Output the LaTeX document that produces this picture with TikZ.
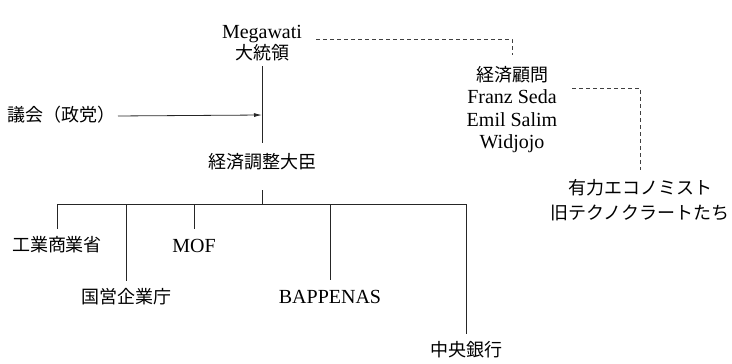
\documentclass[tikz,border=0pt]{standalone}
\usepackage{fontspec}
\setmainfont{Liberation Serif}
\newfontfamily\cjk{Noto Sans CJK JP}[Scale=0.9]
\usetikzlibrary{arrows.meta}
\tikzset{
  lab/.style={inner sep=0pt, outer sep=0pt, font=\fontsize{20}{21.5}\selectfont, align=center},
  one/.style={lab, text height=14pt, text depth=4pt},
  cjkone/.style={one, font=\fontsize{20}{21.5}\selectfont\cjk},
  conn/.style={line width=0.8pt, draw=black!85},
  dashline/.style={line width=0.8pt, draw=black!75, dash pattern=on 4pt off 3pt},
}
\begin{document}
\begin{tikzpicture}[x=1pt,y=-1pt]
\useasboundingbox (0,0) rectangle (732,364);
\node[lab, anchor=north] (pres) at (262,25) {Megawati\\{\cjk 大統領}};
\node[cjkone, anchor=west] (gikai) at (8,116) {議会（政党）};
\node[cjkone] (keizai) at (262,163) {経済調整大臣};
\node[lab, anchor=north, font=\fontsize{20}{22.5}\selectfont] (adv) at (512,66) {{\cjk 経済顧問}\\Franz Seda\\Emil Salim\\Widjojo};
\node[lab, anchor=north, font=\fontsize{20}{25}\selectfont] (econ) at (640,179) {{\cjk 有力エコノミスト}\\{\cjk 旧テクノクラートたち}};
\node[cjkone] (ind) at (57,246.5) {工業商業省};
\node[one] (mof) at (194,247) {MOF};
\node[cjkone] (soe) at (126,298.5) {国営企業庁};
\node[one] (bap) at (330,298) {BAPPENAS};
\node[cjkone] (bank) at (466,351.5) {中央銀行};
\coordinate (bar) at (262,204);
\coordinate (j) at (262,115);
\coordinate (d1) at (316,39);
\coordinate (d2) at (572,88);
\draw[conn, shorten <=5pt, shorten >=11pt] (pres.south) -- (keizai.north);
\draw[conn, -{Latex[length=8pt,width=4pt]}, shorten <=2pt] (gikai.east) -- (j);
\draw[conn, shorten <=18pt] (keizai.south) -- (bar);
\foreach \n in {ind,soe,mof,bap,bank} \draw[conn, shorten >=9pt] (bar) -| (\n.north);
\draw[dashline, shorten >=11pt] (d1) -| (adv.north);
\draw[dashline, shorten >=9pt] (d2) -| (econ.north);
\end{tikzpicture}
\end{document}
